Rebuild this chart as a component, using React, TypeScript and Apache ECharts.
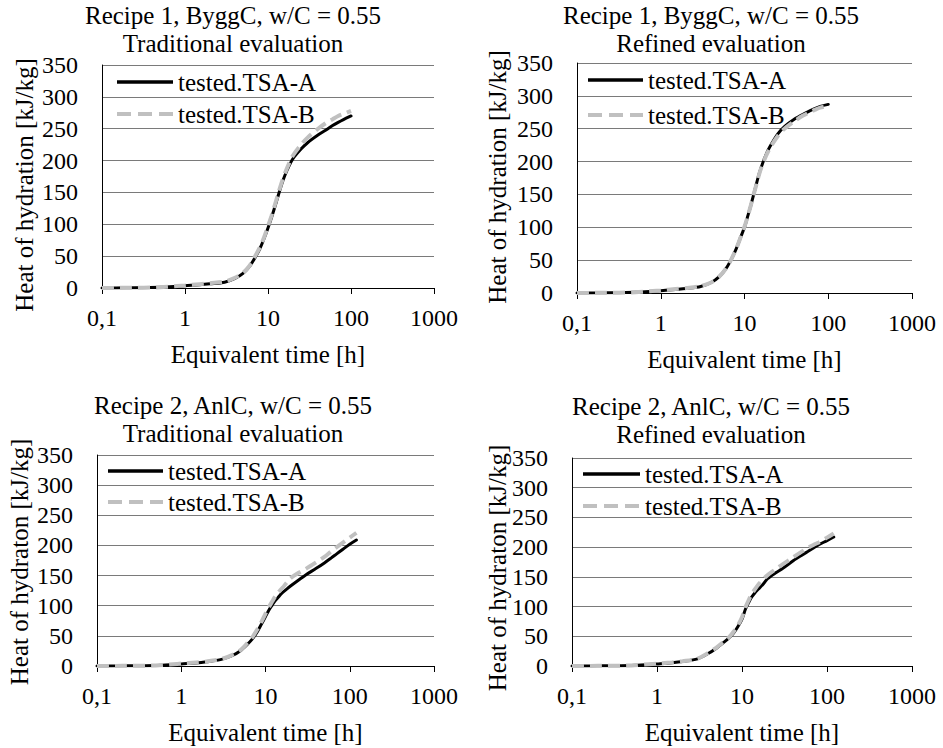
import React, { useEffect, useRef } from 'react';
import * as echarts from 'echarts';

// ---- data ----
const timesR1 = [0.1, 0.2, 0.5, 0.8, 1, 1.5, 2, 3, 4, 5, 6, 7, 8, 9, 10, 11, 12, 13, 14, 15, 16, 18, 20, 25, 30, 40, 50, 60, 70, 80, 100];
const r1TradA = [0, 0.3, 1, 2.5, 3.5, 5, 6.5, 9, 15, 23, 34, 48, 62, 78, 94, 110, 126, 141, 155, 167, 177, 192, 203, 218, 228, 240, 248, 255, 260, 264, 270];
const r1TradB = [0, 0.3, 1, 3, 4, 6, 7.5, 10, 16, 24, 35, 50, 64, 80, 97, 113, 129, 144, 158, 170, 180, 196, 208, 225, 236, 250, 259, 265, 270, 273, 278];
const r1RefA = [0, 0.3, 1, 2.5, 3.5, 5.5, 7, 10, 16, 25, 37, 52, 68, 85, 100, 118, 135, 152, 168, 182, 193, 210, 222, 242, 253, 265, 272, 277, 281, 284, 287];
const r1RefB = [0, 0.3, 1, 3, 4, 6, 7.5, 10.5, 16, 25, 37, 52, 68, 85, 101, 118, 135, 152, 167, 181, 192, 208, 220, 239, 250, 262, 270, 275, 279, 282, 285];

const timesR2 = [0.1, 0.2, 0.5, 0.8, 1, 1.5, 2, 3, 4, 5, 6, 7, 8, 9, 10, 11, 12, 13, 14, 15, 16, 18, 20, 25, 30, 40, 50, 60, 70, 80, 100, 120];
const r2TradA = [0, 0.3, 1, 2.5, 3.5, 5, 7, 11, 17, 25, 35, 45, 57, 70, 82, 93, 101, 108, 113, 118, 122, 128, 133, 143, 151, 162, 171, 179, 186, 192, 202, 209];
const r2TradB = [0, 0.3, 1, 3, 4, 6, 7.5, 11.5, 18, 26, 37, 48, 61, 74, 87, 98, 107, 115, 121, 126, 130, 139, 146, 155, 161, 172, 181, 190, 197, 203, 213, 221];
const r2RefA = [0, 0.3, 1, 2.5, 3.5, 5.5, 7.5, 12, 21, 30, 39, 47, 56, 67, 79, 96, 107, 116, 122, 127, 131, 139, 147, 157, 164, 177, 186, 193, 199, 204, 211, 217];
const r2RefB = [0, 0.3, 1, 3, 4, 6, 8, 12.5, 22, 31, 40, 48, 58, 69, 82, 99, 111, 121, 128, 134, 139, 147, 153, 163, 171, 183, 192, 199, 204, 208, 216, 223];

const seriesNames = ['tested.TSA-A', 'tested.TSA-B'];
const xTickLabels = ['0,1', '1', '10', '100', '1000'];
const yTicks = { min: 0, max: 350, step: 50 };
const xRange = { min: 0.1, max: 1000 };
const panelTitles = [
  'Recipe 1, ByggC, w/C = 0.55\nTraditional evaluation',
  'Recipe 1, ByggC, w/C = 0.55\nRefined evaluation',
  'Recipe 2, AnlC, w/C = 0.55\nTraditional evaluation',
  'Recipe 2, AnlC, w/C = 0.55\nRefined evaluation',
];
const yAxisNames = [
  'Heat of hydration [kJ/kg]',
  'Heat of hydration [kJ/kg]',
  'Heat of hydraton [kJ/kg]',
  'Heat of hydraton [kJ/kg]',
];
const xAxisName = 'Equivalent time [h]';

const panelData = [
  { t: timesR1, a: r1TradA, b: r1TradB },
  { t: timesR1, a: r1RefA, b: r1RefB },
  { t: timesR2, a: r2TradA, b: r2TradB },
  { t: timesR2, a: r2RefA, b: r2RefB },
];

// ---- layout / style ----
const FAMILY = 'Liberation Serif';
const FS = 25;
const FS_TICK = 24;
const COLOR_A = '#000000';
const COLOR_B = '#c0c0c0';
const DASH_B = [12, 6];
const layout = [
  { grid: { left: 102, top: 65, width: 332, height: 223 }, titleX: 233, titleY: 1, yNameX: 24, yNameY: 185, leg: { x1: 117, x2: 173, y1: 82, y2: 114 } },
  { grid: { left: 577, top: 63, width: 335, height: 230 }, titleX: 711, titleY: 1, yNameX: 497, yNameY: 177, leg: { x1: 588, x2: 643, y1: 80, y2: 115 } },
  { grid: { left: 97, top: 455, width: 337, height: 211 }, titleX: 233, titleY: 391, yNameX: 19, yNameY: 562, leg: { x1: 108, x2: 163, y1: 471, y2: 502 } },
  { grid: { left: 572, top: 458, width: 340, height: 208 }, titleX: 711, titleY: 392, yNameX: 497, yNameY: 568, leg: { x1: 583, x2: 640, y1: 474, y2: 506 } },
];

function xLabel(v: number): string {
  const idx = Math.round(Math.log10(v)) + 1;
  return xTickLabels[idx] ?? String(v);
}

function txt(x: number, y: number, text: string, extra: any = {}, rotation = 0) {
  return {
    type: 'text',
    x,
    y,
    rotation,
    style: {
      text,
      fontFamily: FAMILY,
      fontSize: FS,
      fontWeight: 'normal',
      fontStyle: 'normal',
      fill: '#000',
      ...extra,
    },
  };
}

export default function App() {
  const ref = useRef<HTMLDivElement>(null);
  useEffect(() => {
    if (!ref.current) return;
    const chart = echarts.init(ref.current, undefined, { renderer: 'svg' });

    const grids = layout.map((l) => ({ ...l.grid, containLabel: false }));
    const xAxes = layout.map((_, i) => ({
      type: 'log',
      logBase: 10,
      gridIndex: i,
      min: xRange.min,
      max: xRange.max,
      splitNumber: 4,
      name: xAxisName,
      nameLocation: 'middle',
      nameGap: 54,
      nameTextStyle: { fontFamily: FAMILY, fontSize: FS, color: '#000' },
      axisLine: { show: true, lineStyle: { color: '#000', width: 1 } },
      axisTick: { show: true, inside: false, length: 6, lineStyle: { color: '#000' } },
      minorTick: { show: false },
      splitLine: { show: false },
      axisLabel: { formatter: xLabel, fontFamily: FAMILY, fontSize: FS_TICK, color: '#000', margin: 18 },
    }));
    const yAxes = layout.map((_, i) => ({
      type: 'value',
      gridIndex: i,
      min: yTicks.min,
      max: yTicks.max,
      interval: yTicks.step,
      axisLine: { show: true, lineStyle: { color: '#000', width: 1 } },
      axisTick: { show: false },
      splitLine: { show: true, lineStyle: { color: '#7a7a7a', width: 1 } },
      axisLabel: { fontFamily: FAMILY, fontSize: FS_TICK, color: '#000', margin: 24 },
    }));

    const series: any[] = [];
    panelData.forEach((p, i) => {
      series.push({
        type: 'line',
        name: seriesNames[0],
        xAxisIndex: i,
        yAxisIndex: i,
        data: p.t.map((t, k) => [t, p.a[k]]),
        showSymbol: false,
        symbol: 'none',
        smooth: 0.3,
        lineStyle: { color: COLOR_A, width: 3, cap: 'round' },
        itemStyle: { color: COLOR_A },
        z: 2,
      });
      series.push({
        type: 'line',
        name: seriesNames[1],
        xAxisIndex: i,
        yAxisIndex: i,
        data: p.t.map((t, k) => [t, p.b[k]]),
        showSymbol: false,
        symbol: 'none',
        smooth: 0.3,
        lineStyle: { color: COLOR_B, width: 4, type: DASH_B },
        itemStyle: { color: COLOR_B },
        z: 3,
      });
    });

    const graphics: any[] = [];
    layout.forEach((l, i) => {
      graphics.push(txt(l.titleX, l.titleY, panelTitles[i], { align: 'center', verticalAlign: 'top', lineHeight: 28 }));
      graphics.push(txt(l.yNameX, l.yNameY, yAxisNames[i], { align: 'center', verticalAlign: 'middle' }, Math.PI / 2));
      const lg = l.leg;
      graphics.push({
        type: 'line',
        shape: { x1: lg.x1, y1: lg.y1, x2: lg.x2, y2: lg.y1 },
        style: { stroke: COLOR_A, lineWidth: 3.5 },
      });
      graphics.push(txt(lg.x2 + 5, lg.y1, seriesNames[0], { align: 'left', verticalAlign: 'middle' }));
      graphics.push({
        type: 'line',
        shape: { x1: lg.x1, y1: lg.y2, x2: lg.x2, y2: lg.y2 },
        style: { stroke: COLOR_B, lineWidth: 4, lineDash: [14, 7] },
      });
      graphics.push(txt(lg.x2 + 5, lg.y2, seriesNames[1], { align: 'left', verticalAlign: 'middle' }));
    });

    chart.setOption({
      animation: false,
      grid: grids,
      xAxis: xAxes,
      yAxis: yAxes,
      series,
      graphic: graphics,
    });
    return () => chart.dispose();
  }, []);

  return (
    <div
      ref={ref}
      style={{ position: 'fixed', left: 0, top: 0, width: 943, height: 748, background: '#fff' }}
    />
  );
}
